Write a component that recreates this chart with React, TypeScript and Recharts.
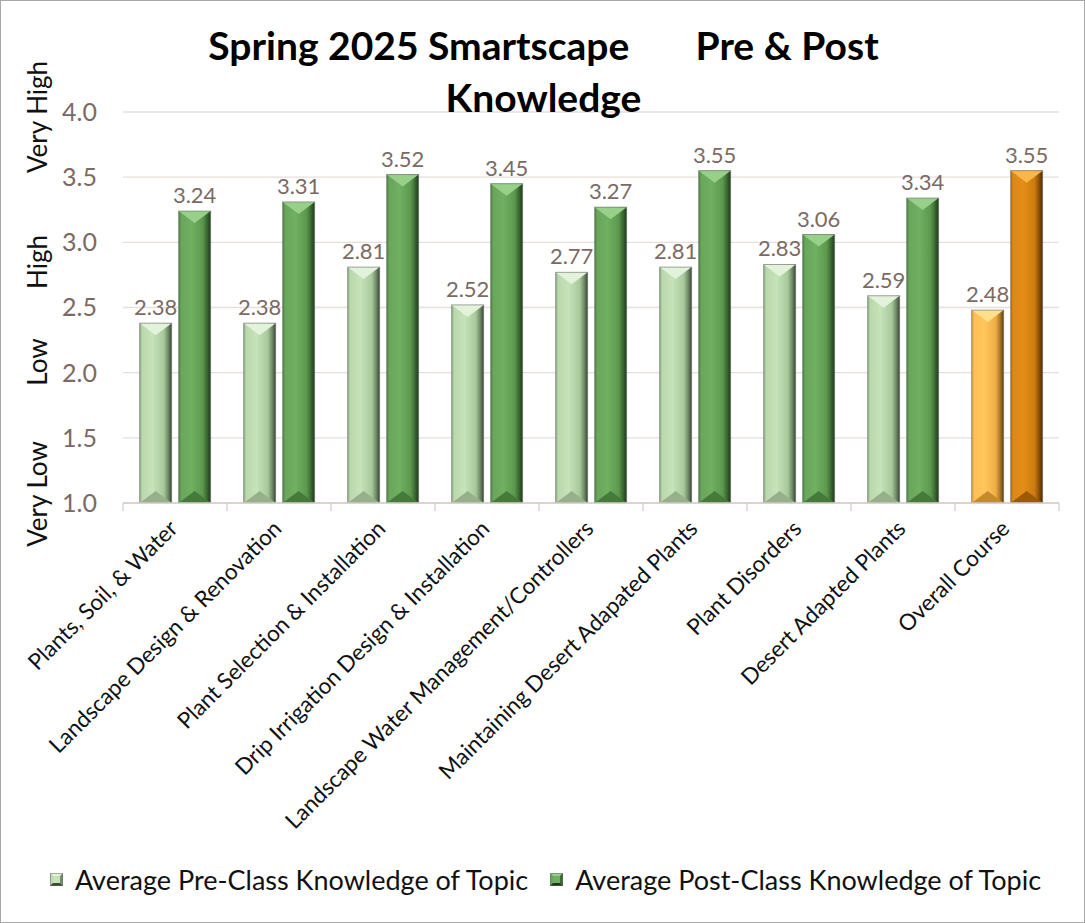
import React from 'react';
import { BarChart, Bar, XAxis, YAxis, CartesianGrid, LabelList, Legend, Cell, Customized } from 'recharts';

// ---------- data ----------
const categories = [
  'Plants, Soil, & Water',
  'Landscape Design & Renovation',
  'Plant Selection & Installation',
  'Drip Irrigation Design & Installation',
  'Landscape Water Management/Controllers',
  'Maintaining Desert Adapated Plants',
  'Plant Disorders',
  'Desert Adapted Plants',
  'Overall Course',
];
const preValues = [2.38, 2.38, 2.81, 2.52, 2.77, 2.81, 2.83, 2.59, 2.48];
const postValues = [3.24, 3.31, 3.52, 3.45, 3.27, 3.55, 3.06, 3.34, 3.55];
const yTicks = [1.0, 1.5, 2.0, 2.5, 3.0, 3.5, 4.0];
const seriesNames = ['Average Pre-Class Knowledge of Topic', 'Average Post-Class Knowledge of Topic'];
const highlightCategory = 'Overall Course';
const titleLine1 = 'Spring 2025 Smartscape       Pre & Post';
const titleLine2 = 'Knowledge';
const levelLabels = ['Very High', 'High', 'Low', 'Very Low'];

const data = categories.map((c, i) => ({ category: c, pre: preValues[i], post: postValues[i] }));

// ---------- style ----------
const FONT = "Lato, 'Noto Sans', sans-serif";
const CHART_W = 1083;
const CHART_H = 921;
const MARGIN = { top: 111, right: 25, left: 0, bottom: 10 };
const Y_AXIS_W = 122;
const X_AXIS_H = 349;
const LEGEND_H = 60;
const BAND = (CHART_W - MARGIN.left - MARGIN.right - Y_AXIS_W) / categories.length;
const NUM_COLOR = '#7b6a64';
const GRID_COLOR = '#e6dfdc';
const AXIS_COLOR = '#d6cdc9';

const PALETTES: Record<string, any> = {
  pre: {
    grad: 'gPre', top: '#e3f3db', bottom: '#97b08b',
    stops: [['0%', '#8faa84'], ['8%', '#b9d8ab'], ['40%', '#c6e3b9'], ['75%', '#a9c99c'], ['88%', '#74906a'], ['100%', '#3a4834']],
  },
  post: {
    grad: 'gPost', top: '#98d08a', bottom: '#457a3a',
    stops: [['0%', '#4a8040'], ['8%', '#68a65a'], ['40%', '#70b062'], ['75%', '#5b984e'], ['88%', '#3b6b33'], ['100%', '#1e3a1a']],
  },
  preHl: {
    grad: 'gPreHl', top: '#ffe08a', bottom: '#c38a30',
    stops: [['0%', '#d89a35'], ['8%', '#ffbf55'], ['40%', '#ffc55c'], ['75%', '#f0ae45'], ['88%', '#b07a2a'], ['100%', '#5e4012']],
  },
  postHl: {
    grad: 'gPostHl', top: '#f8b748', bottom: '#9a5a0a',
    stops: [['0%', '#b86c10'], ['8%', '#dc8816'], ['40%', '#e48e18'], ['75%', '#cc7a10'], ['88%', '#8f5208'], ['100%', '#4a2a04']],
  },
};

const makeShape = (kind: string) => (props: any) => {
  const { x, y, width: w, height: h, payload } = props;
  if (!h || h <= 0) return <g />;
  const hl = payload && payload.category === highlightCategory;
  const pal = PALETTES[kind + (hl ? 'Hl' : '')];
  const d = Math.min(12, h / 2);
  return (
    <g>
      <rect x={x} y={y} width={w} height={h} fill={`url(#${pal.grad})`} />
      <polygon points={`${x},${y} ${x + w},${y} ${x + w / 2},${y + d}`} fill={pal.top} />
      <polygon points={`${x},${y + h} ${x + w},${y + h} ${x + w / 2},${y + h - d}`} fill={pal.bottom} />
      <rect x={x} y={y} width={w} height={h} fill="none" stroke="#6b6b6b" strokeOpacity={0.6} strokeWidth={1} />
    </g>
  );
};

const Defs = () => (
  <defs>
    {Object.values(PALETTES).map((p: any) => (
      <linearGradient key={p.grad} id={p.grad} x1="0" y1="0" x2="1" y2="0">
        {p.stops.map((s: any) => (
          <stop key={s[0]} offset={s[0]} stopColor={s[1]} />
        ))}
      </linearGradient>
    ))}
  </defs>
);

const Decorations = () => {
  const levelY = [116, 261, 361, 493];
  return (
    <g>
      <Defs />
      <text x={CHART_W / 2 + 1} y={59} textAnchor="middle" fontFamily={FONT} fontWeight={700} fontSize={39} fill="#000" style={{ whiteSpace: 'pre' }}>
        {titleLine1}
      </text>
      <text x={CHART_W / 2 + 1} y={111} textAnchor="middle" fontFamily={FONT} fontWeight={700} fontSize={39} fill="#000">
        {titleLine2}
      </text>
      {levelLabels.map((t, i) => (
        <text key={t} x={46} y={levelY[i]} textAnchor="middle" fontFamily={FONT} fontSize={26} fill="#111"
          transform={`rotate(-90, 46, ${levelY[i]})`}>
          {t}
        </text>
      ))}
    </g>
  );
};

const XTick = (props: any) => {
  const { x, y, payload, index } = props;
  const lx = x - BAND / 2;
  const ax = x + 4;
  const ay = y + 27;
  return (
    <g>
      <line x1={lx} x2={lx} y1={y} y2={y + 8} stroke={AXIS_COLOR} strokeWidth={1.3} />
      {index === categories.length - 1 && (
        <line x1={x + BAND / 2} x2={x + BAND / 2} y1={y} y2={y + 8} stroke={AXIS_COLOR} strokeWidth={1.3} />
      )}
      <text x={ax} y={ay} textAnchor="end" transform={`rotate(-45, ${ax}, ${ay})`} fontFamily={FONT} fontSize={22.5} fill="#111">
        {payload.value}
      </text>
    </g>
  );
};

const LegendIcon = ({ kind }: { kind: string }) => {
  const p = PALETTES[kind];
  const s = 13;
  return (
    <svg width={s} height={s} style={{ marginRight: 12, display: 'block' }}>
      <rect x={0} y={0} width={s} height={s} fill={p.stops[2][1]} />
      <polygon points={`0,0 ${s},0 ${s - 3},3 3,3`} fill={p.top} />
      <polygon points={`0,0 3,3 3,${s - 3} 0,${s}`} fill={p.stops[1][1]} />
      <polygon points={`${s},0 ${s},${s} ${s - 3},${s - 3} ${s - 3},3`} fill={p.stops[4][1]} />
      <polygon points={`0,${s} ${s},${s} ${s - 3},${s - 3} 3,${s - 3}`} fill={p.stops[5][1]} />
      <rect x={0.5} y={0.5} width={s - 1} height={s - 1} fill="none" stroke="#666" strokeOpacity={0.5} />
    </svg>
  );
};

const LegendContent = () => (
  <div style={{ display: 'flex', justifyContent: 'center', alignItems: 'center', height: LEGEND_H, fontFamily: FONT, fontSize: 27, color: '#111', paddingLeft: 6, paddingBottom: 6, boxSizing: 'border-box' }}>
    {seriesNames.map((n, i) => (
      <div key={n} style={{ display: 'flex', alignItems: 'center', marginRight: i === 0 ? 22 : 0 }}>
        <LegendIcon kind={i === 0 ? 'pre' : 'post'} />
        <span>{n}</span>
      </div>
    ))}
  </div>
);

export default function App() {
  return (
    <div style={{ position: 'absolute', left: 0, top: 0, width: CHART_W, height: CHART_H, border: '1px solid #a8a8a8', background: '#fff' }}>
      <BarChart width={CHART_W} height={CHART_H} data={data} margin={MARGIN} barCategoryGap="16%" barGap={7}>
        <Customized component={<Decorations />} />
        <CartesianGrid vertical={false} stroke={GRID_COLOR} strokeWidth={1.3} />
        <XAxis
          dataKey="category"
          interval={0}
          height={X_AXIS_H}
          tickLine={false}
          tickSize={0}
          tickMargin={0}
          axisLine={{ stroke: AXIS_COLOR, strokeWidth: 1.3 }}
          tick={<XTick />}
        />
        <YAxis
          domain={[1, 4]}
          ticks={yTicks}
          width={Y_AXIS_W}
          axisLine={false}
          tickLine={false}
          tickSize={0}
          tickMargin={26}
          tickFormatter={(v: number) => v.toFixed(1)}
          tick={{ fill: NUM_COLOR, fontSize: 25, fontFamily: FONT }}
          allowDataOverflow
        />
        <Legend
          verticalAlign="bottom"
          height={LEGEND_H}
          width={CHART_W}
          wrapperStyle={{ left: 0, width: CHART_W }}
          content={<LegendContent />}
        />
        <Bar dataKey="pre" name={seriesNames[0]} fill="#b9d8ab" shape={makeShape('pre')} isAnimationActive={false}>
          {data.map((d) => (
            <Cell key={d.category} fill={d.category === highlightCategory ? '#ffc55c' : '#b9d8ab'} />
          ))}
          <LabelList dataKey="pre" position="top" offset={8} formatter={(v: number) => v.toFixed(2)} fill={NUM_COLOR} fontSize={22} fontFamily={FONT} />
        </Bar>
        <Bar dataKey="post" name={seriesNames[1]} fill="#68a65a" shape={makeShape('post')} isAnimationActive={false}>
          {data.map((d) => (
            <Cell key={d.category} fill={d.category === highlightCategory ? '#e48e18' : '#68a65a'} />
          ))}
          <LabelList dataKey="post" position="top" offset={8} formatter={(v: number) => v.toFixed(2)} fill={NUM_COLOR} fontSize={22} fontFamily={FONT} />
        </Bar>
      </BarChart>
    </div>
  );
}
